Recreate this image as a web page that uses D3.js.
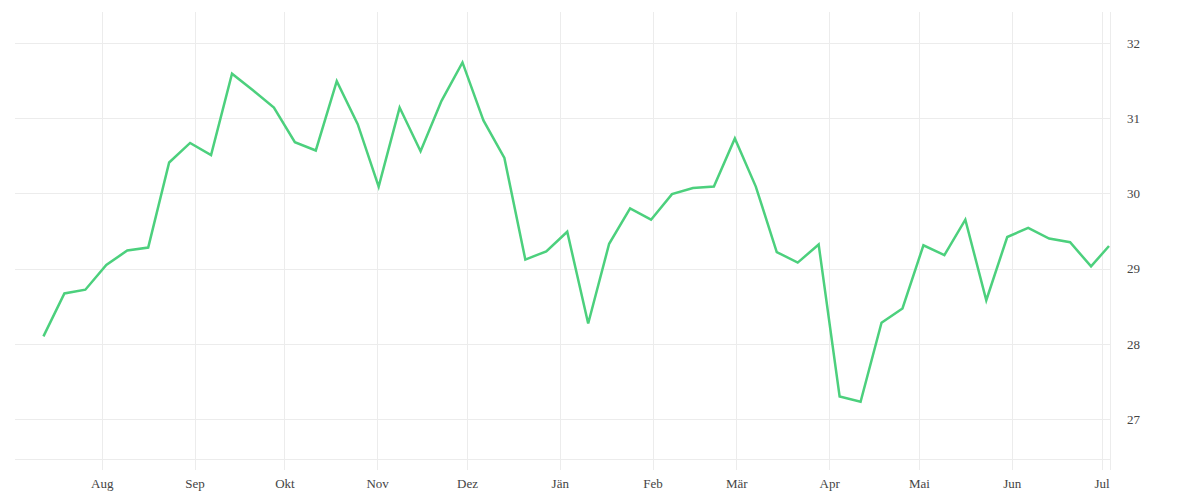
<!DOCTYPE html>
<html>
<head>
<meta charset="utf-8">
<script src="https://cdn.jsdelivr.net/npm/d3@7/dist/d3.min.js"></script>
<style>
  html, body { margin: 0; padding: 0; background: #fff; }
  svg { display: block; }
  text { font-family: "Liberation Serif", "DejaVu Serif", serif; fill: #444; }
</style>
</head>
<body>
<svg id="chart" width="1200" height="500"></svg>
<script>
// Weekly observation dates
const dates = [
  "2018-07-12","2018-07-19","2018-07-26","2018-08-02","2018-08-09","2018-08-16","2018-08-23","2018-08-30",
  "2018-09-06","2018-09-13","2018-09-20","2018-09-27","2018-10-04","2018-10-11","2018-10-18","2018-10-25",
  "2018-11-01","2018-11-08","2018-11-15","2018-11-22","2018-11-29","2018-12-06","2018-12-13","2018-12-20",
  "2018-12-27","2019-01-03","2019-01-10","2019-01-17","2019-01-24","2019-01-31","2019-02-07","2019-02-14",
  "2019-02-21","2019-02-28","2019-03-07","2019-03-14","2019-03-21","2019-03-28","2019-04-04","2019-04-11",
  "2019-04-18","2019-04-25","2019-05-02","2019-05-09","2019-05-16","2019-05-23","2019-05-30","2019-06-06",
  "2019-06-13","2019-06-20","2019-06-27","2019-07-03"
];
// Series values
const values = [
  28.10, 28.67, 28.72, 29.05, 29.24, 29.28, 30.41, 30.67,
  30.51, 31.59, 31.37, 31.14, 30.68, 30.57, 31.49, 30.92,
  30.09, 31.14, 30.56, 31.23, 31.74, 30.97, 30.47, 29.12,
  29.23, 29.49, 28.27, 29.33, 29.80, 29.65, 29.99, 30.07,
  30.09, 30.73, 30.09, 29.22, 29.08, 29.32, 27.30, 27.23,
  28.28, 28.47, 29.31, 29.18, 29.65, 28.58, 29.42, 29.54,
  29.40, 29.35, 29.03, 29.30
];
// Tick labels
const monthTicks = ["2018-08-01","2018-09-01","2018-10-01","2018-11-01","2018-12-01","2019-01-01",
                    "2019-02-01","2019-03-01","2019-04-01","2019-05-01","2019-06-01","2019-07-01"];
const monthLabels = ["Aug","Sep","Okt","Nov","Dez","Jän","Feb","Mär","Apr","Mai","Jun","Jul"];
const yTicks = [27, 28, 29, 30, 31, 32];

(function () {
const parse = d3.timeParse("%Y-%m-%d");
const parseT = d3.timeParse("%Y-%m-%dT%H:%M");
const data = dates.map((d, i) => ({ date: d3.timeHour.offset(parse(d), 12), value: values[i] }));
const tickDates = monthTicks.map(parse);

const pL = 15, pR = 1110, pT = 12, pB = 459;
const x = d3.scaleTime()
  .domain([parseT("2018-07-03T00:00"), parseT("2019-07-03T20:00")])
  .range([pL, pR]);
const y = d3.scaleLinear().domain([26.47, 32.41]).range([pB, pT]);

const svg = d3.select("#chart");
const grid = "#ececec";

// vertical month gridlines
svg.append("g").selectAll("line").data(tickDates).join("line")
  .attr("x1", d => Math.round(x(d)) + 0.5).attr("x2", d => Math.round(x(d)) + 0.5)
  .attr("y1", pT).attr("y2", 470)
  .attr("stroke", grid).attr("stroke-width", 1);

// right edge line
svg.append("line")
  .attr("x1", pR + 0.5).attr("x2", pR + 0.5).attr("y1", pT).attr("y2", 470)
  .attr("stroke", grid).attr("stroke-width", 1);

// horizontal gridlines (incl. bottom edge)
svg.append("g").selectAll("line").data(yTicks.concat([y.domain()[0]])).join("line")
  .attr("x1", pL).attr("x2", pR)
  .attr("y1", d => Math.round(y(d)) + 0.5).attr("y2", d => Math.round(y(d)) + 0.5)
  .attr("stroke", grid).attr("stroke-width", 1);

// x axis labels
const xAxis = d3.axisBottom(x).tickValues(tickDates)
  .tickFormat((d, i) => monthLabels[i]).tickSize(0).tickPadding(0);
const gx = svg.append("g").attr("transform", `translate(0,${pB})`).call(xAxis);
gx.select(".domain").remove();
gx.selectAll("text").attr("dy", null).attr("y", 29).attr("font-size", 13)
  .attr("font-family", "Liberation Serif").attr("fill", "#444");

// y axis labels (right)
const yAxis = d3.axisRight(y).tickValues(yTicks).tickFormat(d3.format("d")).tickSize(0).tickPadding(0);
const gy = svg.append("g").attr("transform", `translate(1127,0)`).call(yAxis);
gy.select(".domain").remove();
gy.selectAll("text").attr("font-size", 13).attr("font-family", "Liberation Serif").attr("fill", "#444");

// line
const line = d3.line().x(d => x(d.date)).y(d => y(d.value));
svg.append("path").datum(data)
  .attr("d", line)
  .attr("fill", "none")
  .attr("stroke", "#4cd07d")
  .attr("stroke-width", 2.5)
  .attr("stroke-linejoin", "miter");
})();
</script>
</body>
</html>
